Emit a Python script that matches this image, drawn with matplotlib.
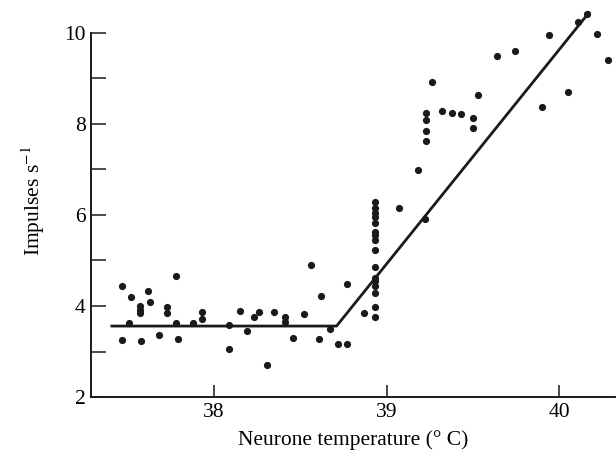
import matplotlib.pyplot as plt
from matplotlib.ticker import MultipleLocator

# Firing rate of a warm-sensitive neurone vs. temperature
temp = [37.47, 37.52, 37.51, 37.47, 37.57, 37.57, 37.57, 37.58, 37.62, 37.63,
        37.68, 37.73, 37.73, 37.78, 37.78, 37.79, 37.88, 37.93, 37.93,
        38.09, 38.09, 38.15, 38.19, 38.23, 38.26, 38.31, 38.35,
        38.41, 38.41, 38.46, 38.52, 38.56, 38.61, 38.62, 38.67, 38.72, 38.77,
        38.77, 38.87,
        38.93, 38.93, 38.93, 38.93, 38.93, 38.93, 38.93, 38.93, 38.93, 38.93,
        38.93, 38.93, 38.93, 38.93, 38.93, 38.93,
        39.07, 39.18, 39.22, 39.23, 39.23, 39.23, 39.23, 39.26, 39.32, 39.38,
        39.43, 39.50, 39.50, 39.53, 39.64, 39.74, 39.90, 39.94, 40.05, 40.11,
        40.16, 40.22, 40.28]
rate = [4.44, 4.20, 3.62, 3.25, 4.00, 3.91, 3.84, 3.24, 4.33, 4.09,
        3.37, 3.97, 3.84, 4.66, 3.62, 3.27, 3.62, 3.87, 3.72,
        3.58, 3.05, 3.90, 3.46, 3.76, 3.87, 2.70, 3.87,
        3.76, 3.64, 3.29, 3.82, 4.89, 3.27, 4.22, 3.49, 3.16, 3.16,
        4.48, 3.84,
        6.29, 6.15, 6.04, 5.95, 5.82, 5.63, 5.56, 5.45, 5.23, 4.85,
        4.61, 4.55, 4.44, 4.28, 3.98, 3.75,
        6.16, 6.98, 5.91, 8.25, 8.09, 7.85, 7.63, 8.92, 8.29, 8.23,
        8.22, 8.13, 7.91, 8.64, 9.48, 9.59, 8.37, 9.96, 8.71, 10.23,
        10.42, 9.98, 9.41]

# two-segment fitted line
fit_x = [37.41, 38.71, 40.17]
fit_y = [3.56, 3.56, 10.44]

plt.rcParams['font.family'] = ['Liberation Serif', 'DejaVu Serif']
plt.rcParams['mathtext.fontset'] = 'stix'

fig = plt.figure(figsize=(6.16, 4.58), dpi=100)
ax = fig.add_axes([0.148, 0.133, 0.85, 0.855])

ax.plot(fit_x, fit_y, color='#1a1a1a', lw=2.0, clip_on=False, zorder=2)
ax.scatter(temp, rate, s=27, color='#1a1a1a', lw=0, clip_on=False, zorder=3)

ax.set_xlim(37.29, 40.32)
ax.set_ylim(2, 10.6)
ax.spines['top'].set_visible(False)
ax.spines['right'].set_visible(False)
ax.spines['left'].set_bounds(2, 10)
for s in ['left', 'bottom']:
    ax.spines[s].set_linewidth(1.4)
    ax.spines[s].set_color('#1a1a1a')

ax.set_xticks([38, 39, 40])
ax.yaxis.set_major_locator(MultipleLocator(2))
ax.yaxis.set_minor_locator(MultipleLocator(1))
ax.set_yticks([2, 4, 6, 8, 10])
ax.tick_params(axis='y', which='both', direction='in', length=11, width=1.1,
               labelsize=15.5, pad=4, color='#1a1a1a')
ax.tick_params(axis='x', direction='in', length=9, width=1.1,
               labelsize=15.5, pad=4, color='#1a1a1a')

ax.set_xlabel('Neurone temperature (° C)', fontsize=15.5, labelpad=6)
ax.set_ylabel(r'Impulses s$^{-1}$', fontsize=15.5, labelpad=12)

plt.savefig('out.png', dpi=100)
